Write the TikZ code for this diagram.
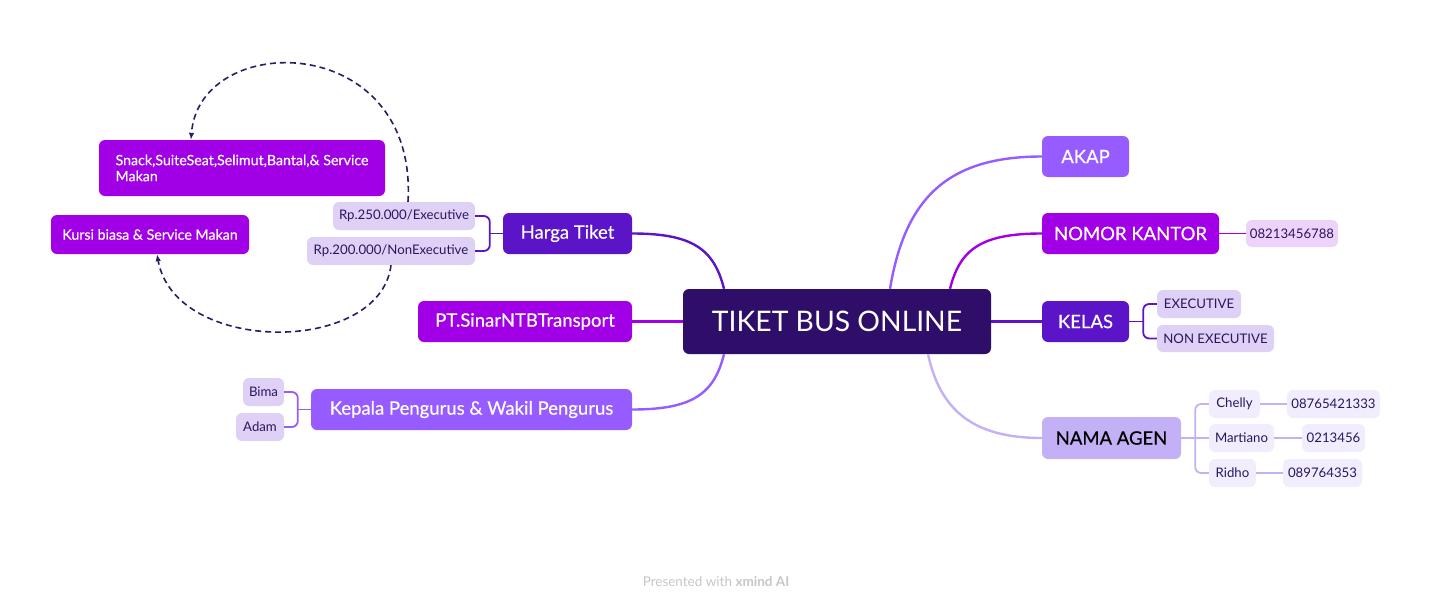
\documentclass[tikz,border=0pt]{standalone}
\usepackage{fontspec}
\setmainfont{Lato}
\newfontfamily\medfont{Lato}[FakeBold=0.5]
\usepackage{tikz}
\usetikzlibrary{arrows.meta,positioning}

\definecolor{rootfill}{HTML}{2E0E68}
\definecolor{violetfill}{HTML}{975CFF}
\definecolor{purplefill}{HTML}{A100E6}
\definecolor{indigofill}{HTML}{5B14C7}
\definecolor{lavenderfill}{HTML}{C4B0F6}
\definecolor{lightfill}{HTML}{DFD1F5}
\definecolor{pinkfill}{HTML}{EDD3FA}
\definecolor{palefill}{HTML}{F1EDFD}
\definecolor{inkdark}{HTML}{2B1660}
\definecolor{loopink}{HTML}{2E1A66}
\definecolor{footgray}{HTML}{C6C6C6}

\begin{document}
\begin{tikzpicture}[>=Latex, x=1pt, y=-1pt,
  nodebox/.style={rounded corners=6pt, inner sep=0pt, align=center},
  topicbox/.style={nodebox, minimum height=41pt, font=\medfont\fontsize{18.5}{21}\selectfont, text=white},
  leafbox/.style={nodebox, minimum height=28pt, font=\fontsize{13.2}{15}\selectfont, text=inkdark},
  notebox/.style={nodebox, fill=purplefill, text=white, font=\medfont\fontsize{14.2}{16}\selectfont},
  branchline/.style={line width=2.4pt},
  bracketline/.style={line width=1.8pt, rounded corners=6pt},
  dasharrow/.style={-{Latex[length=7pt,width=5.5pt]}, dash pattern=on 6pt off 4pt, line width=1.6pt, draw=loopink}
]
\useasboundingbox (0,0) rectangle (1431,608);

% central topic
\node[nodebox, fill=rootfill, text=white, minimum width=308pt, minimum height=65pt,
  font=\fontsize{28.3}{31}\selectfont] (root) at (837,321.5) {TIKET BUS ONLINE};

% right side
\node[topicbox, fill=violetfill, minimum width=87pt] (akap) at (1085.5,156.5) {AKAP};
\node[topicbox, fill=purplefill, minimum width=177pt] (kantor) at (1130.5,233.5) {NOMOR KANTOR};
\node[leafbox, fill=pinkfill, minimum width=92pt, minimum height=27pt] (telp) at (1292,233.5) {08213456788};
\node[topicbox, fill=indigofill, minimum width=87pt] (kelas) at (1085.5,321.5) {KELAS};
\node[leafbox, fill=lightfill, minimum width=84pt] (exec) at (1199,304) {EXECUTIVE};
\node[leafbox, fill=lightfill, minimum width=117pt, minimum height=27pt] (nonexec) at (1215.5,338.5) {NON EXECUTIVE};
\node[topicbox, fill=lavenderfill, text=black, minimum width=139pt, minimum height=42pt] (agen) at (1111.5,438) {NAMA AGEN};
\node[leafbox, fill=palefill, minimum width=51pt] (chelly) at (1234.5,404) {Chelly};
\node[leafbox, fill=palefill, minimum width=93pt] (chellytelp) at (1333.5,404) {08765421333};
\node[leafbox, fill=palefill, minimum width=65pt] (martiano) at (1241.5,438) {Martiano};
\node[leafbox, fill=palefill, minimum width=63pt] (martianotelp) at (1333.5,438) {0213456};
\node[leafbox, fill=palefill, minimum width=47pt] (ridho) at (1232.5,473) {Ridho};
\node[leafbox, fill=palefill, minimum width=79pt] (ridhotelp) at (1322.5,473) {089764353};

% left side
\node[topicbox, fill=indigofill, minimum width=129pt] (harga) at (567.5,233.5) {Harga Tiket};
\node[leafbox, fill=lightfill, minimum width=142pt] (rpexec) at (404,216) {Rp.250.000/Executive};
\node[leafbox, fill=lightfill, minimum width=168pt] (rpnonexec) at (391,251) {Rp.200.000/NonExecutive};
\node[topicbox, fill=purplefill, minimum width=214pt] (pt) at (525,321.5) {PT.SinarNTBTransport};
\node[topicbox, fill=violetfill, minimum width=321pt] (pengurus) at (471.5,409.5) {Kepala Pengurus \& Wakil Pengurus};
\node[leafbox, fill=lightfill, minimum width=41pt] (bima) at (263.5,392) {Bima};
\node[leafbox, fill=lightfill, minimum width=48pt] (adam) at (260,427) {Adam};
\node[notebox, align=left, minimum width=286pt, minimum height=56pt] (fasilitas) at (242,168)
  {Snack,SuiteSeat,Selimut,Bantal,\& Service\\Makan};
\node[notebox, minimum width=198pt, minimum height=39pt] (kursi) at (150,234.5) {Kursi biasa \& Service Makan};

% main branches
\draw[branchline, violetfill] ([xshift=53pt]root.north) .. controls +(15,-90) and +(-95,0) .. (akap.west);
\draw[branchline, purplefill] ([xshift=113pt]root.north) .. controls +(10,-40) and +(-60,0) .. (kantor.west);
\draw[branchline, indigofill] (root.east) -- (kelas.west);
\draw[branchline, lavenderfill] ([xshift=91pt]root.south) .. controls +(12,55) and +(-70,0) .. (agen.west);
\draw[branchline, indigofill] ([xshift=-113pt]root.north) .. controls +(-10,-40) and +(60,0) .. (harga.east);
\draw[branchline, purplefill] (root.west) -- (pt.east);
\draw[branchline, violetfill] ([xshift=-113pt]root.south) .. controls +(-10,40) and +(60,0) .. (pengurus.east);

% sub branches
\draw[bracketline, purplefill] (kantor.east) -- (telp.west);
\draw[bracketline, indigofill] (kelas.east) -- ++(14,0) coordinate (kelasfork);
\draw[bracketline, indigofill] (exec.west) -| (kelasfork) |- (nonexec.west);
\draw[bracketline, lavenderfill] (agen.east) -- ++(14,0) coordinate (agenfork);
\draw[bracketline, lavenderfill] (chelly.west) -| (agenfork) |- (ridho.west);
\draw[bracketline, lavenderfill] (agenfork) -- (martiano.west);
\draw[bracketline, lavenderfill] (chelly.east) -- (chellytelp.west);
\draw[bracketline, lavenderfill] (martiano.east) -- (martianotelp.west);
\draw[bracketline, lavenderfill] (ridho.east) -- (ridhotelp.west);
\draw[bracketline, indigofill] (harga.west) -- ++(-13,0) coordinate (hargafork);
\draw[bracketline, indigofill] (rpexec.east) -| (hargafork) |- (rpnonexec.east);
\draw[bracketline, violetfill] (pengurus.west) -- ++(-13,0) coordinate (pengurusfork);
\draw[bracketline, violetfill] (bima.east) -| (pengurusfork) |- (adam.east);

% relationship arrows
\draw[dasharrow] ([xshift=4pt]rpexec.north) .. controls +(10,-172) and +(8,-110) .. ([xshift=-51pt]fasilitas.north);
\draw[dasharrow] (rpnonexec.south) .. controls +(-11,90) and +(18,101) .. ([xshift=7pt]kursi.south);

% footer
\node[text=footgray, font=\fontsize{13.5}{15}\selectfont] (footer) at (716,582) {Presented with \textbf{xmind AI}};
\end{tikzpicture}
\end{document}
